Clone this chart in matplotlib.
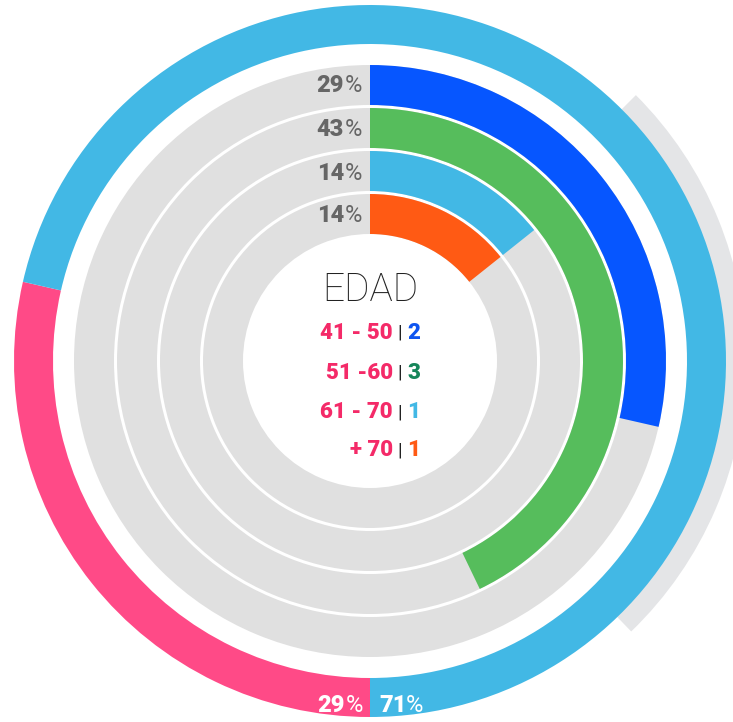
import matplotlib
matplotlib.use("Agg")
import matplotlib.pyplot as plt
from matplotlib.patches import Wedge

# ---- data ----
age_groups = ["41 - 50", "51 -60", "61 - 70", "+ 70"]
age_counts = [2, 3, 1, 1]
age_colors = ["#0656FF", "#56BD5C", "#42B8E5", "#FF5A14"]
count_colors = ["#0E55F0", "#16865A", "#42B8E5", "#FF5A14"]

gender_counts = [2, 5]
gender_colors = ["#FF4A87", "#42B8E5"]

title = "EDAD"

plt.rcParams['font.family'] = ['Roboto', 'DejaVu Sans']

W, H = 733, 722
fig = plt.figure(figsize=(W / 100, H / 100), dpi=100)
ax = fig.add_axes([0, 0, 1, 1])
ax.set_xlim(0, W)
ax.set_ylim(0, H)
ax.axis('off')

cx, cy = 370, H - 361


def arc(r, a1, a2, width, color, z=1):
    # a1, a2: clockwise degrees from 12 o'clock
    ax.add_patch(Wedge((cx, cy), r, 90 - a2, 90 - a1, width=width,
                       facecolor=color, edgecolor='none', zorder=z))


# shadow arc on the right
arc(376, 45, 136, 25, "#E4E5E7", z=0)

# outer ring: gender split, starting at the bottom
total_g = sum(gender_counts)
start = 180
for cnt, col in zip(gender_counts, gender_colors):
    span = 360 * cnt / total_g
    arc(356, start, start + span, 39, col, z=2)
    start += span

# inner rings: age groups
total = sum(age_counts)
ring_outer = [296, 253, 210, 167]
for r, cnt, col in zip(ring_outer, age_counts, age_colors):
    arc(r, 0, 360, 40, "#E0E0E0", z=1)
    arc(r, 0, 360 * cnt / total, 40, col, z=2)

# ring percentage labels
label_y = [85, 130, 173, 215]
for y, cnt in zip(label_y, age_counts):
    pct = round(100 * cnt / total)
    ax.text(344, H - y, f"{pct}", ha='right', va='center', fontsize=17,
            fontweight='heavy', color="#666666", zorder=5)
    ax.text(345, H - y, "%", ha='left', va='center', fontsize=17,
            fontweight='normal', color="#666666", zorder=5)

# outer percentage labels
g_pct = [round(100 * c / total_g) for c in gender_counts]
ax.text(345, H - 706, f"{g_pct[0]}", ha='right', va='center', fontsize=17,
        fontweight='heavy', color="white", zorder=5)
ax.text(346, H - 706, "%", ha='left', va='center', fontsize=17,
        fontweight='normal', color="white", zorder=5)
ax.text(379, H - 706, f"{g_pct[1]}", ha='left', va='center', fontsize=17,
        fontweight='heavy', color="white", zorder=5)
ax.text(406, H - 706, "%", ha='left', va='center', fontsize=17,
        fontweight='normal', color="white", zorder=5)

# center title and legend
ax.text(370, H - 290, title, ha='center', va='center', fontsize=28,
        fontweight='light', color="#222222", zorder=5)
legend_y = [333, 373, 412, 450]
for y, grp, cnt, col in zip(legend_y, age_groups, age_counts, count_colors):
    ax.text(393, H - y, grp, ha='right', va='center', fontsize=16,
            fontweight='heavy', color="#F42A68", zorder=5)
    ax.text(400, H - y, "|", ha='center', va='center', fontsize=14,
            color="#222222", zorder=5)
    ax.text(407, H - y, str(cnt), ha='left', va='center', fontsize=16,
            fontweight='heavy', color=col, zorder=5)

fig.savefig("out.png", dpi=100)
